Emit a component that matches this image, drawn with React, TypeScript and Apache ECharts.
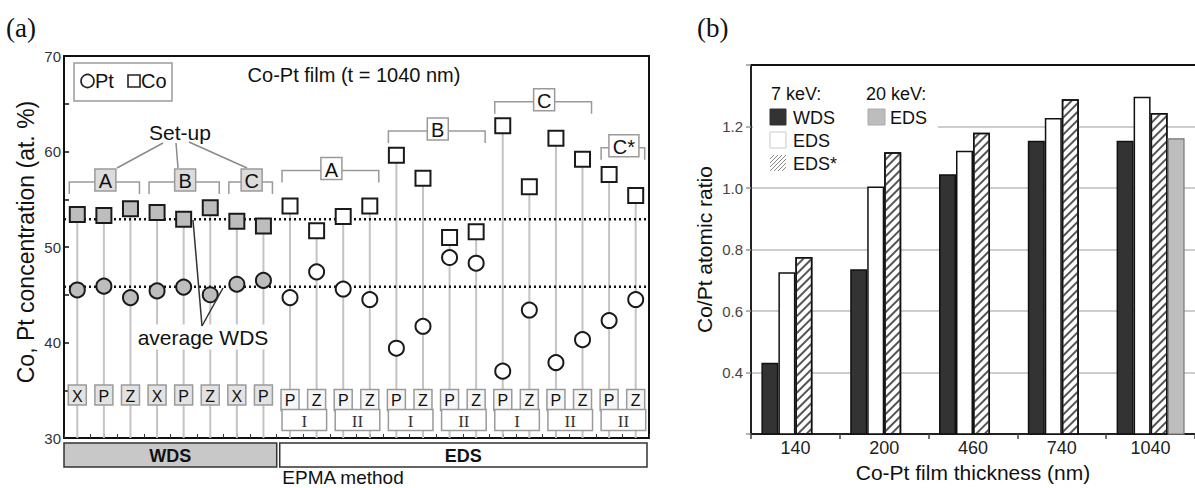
import React, { useEffect, useRef } from "react";
import * as echarts from "echarts";

// ---------------- Panel (a): Co-Pt film (t = 1040 nm) ----------------
const methods = [
  "WDS", "WDS", "WDS", "WDS", "WDS", "WDS", "WDS", "WDS",
  "EDS", "EDS", "EDS", "EDS", "EDS", "EDS", "EDS", "EDS", "EDS", "EDS", "EDS", "EDS", "EDS", "EDS",
];
const detectors = ["X", "P", "Z", "X", "P", "Z", "X", "P", "P", "Z", "P", "Z", "P", "Z", "P", "Z", "P", "Z", "P", "Z", "P", "Z"];
const coConc = [53.4, 53.3, 54.0, 53.6, 52.9, 54.1, 52.7, 52.2, 54.3, 51.7, 53.2, 54.3, 59.6, 57.2, 51.0, 51.6, 62.7, 56.3, 61.4, 59.2, 57.6, 55.4];
const ptConc = [45.5, 45.9, 44.7, 45.4, 45.8, 45.0, 46.1, 46.5, 44.7, 47.4, 45.6, 44.5, 39.4, 41.7, 48.9, 48.3, 37.0, 43.4, 37.9, 40.3, 42.3, 44.5];
const avgWdsCo = 52.9;
const avgWdsPt = 45.85;
const setupLabels = ["A", "B", "C", "A", "B", "C", "C*"];
const setupFirst = [0, 3, 6, 8, 12, 16, 20];
const setupLast = [2, 5, 7, 11, 15, 19, 21];
const runLabels = ["I", "II", "I", "II", "I", "II", "II"];
const runFirst = [8, 10, 12, 14, 16, 18, 20];
const runLast = [9, 11, 13, 15, 17, 19, 21];
const methodNames = ["WDS", "EDS"];
const methodFirst = [0, 8];
const methodLast = [7, 21];

// ---------------- Panel (b): Co/Pt atomic ratio ----------------
const thickness = ["140", "200", "460", "740", "1040"];
const wds7keV = [0.432, 0.736, 1.045, 1.154, 1.154];
const eds7keV = [0.726, 1.005, 1.121, 1.228, 1.297];
const edsStar7keV = [0.776, 1.116, 1.18, 1.289, 1.244];
const eds20keV = [null, null, null, null, 1.162];

const SANS = '"Liberation Sans", Arial, Helvetica, sans-serif';
const SERIF = '"Liberation Serif", "Times New Roman", serif';

// layout (not data): heights of the set-up brackets in concentration units
const bracketLevels = [56.8, 56.8, 56.8, 58.0, 62.15, 65.2, 60.4];

function txt(text: string, x: number, y: number, size: number, o: any = {}) {
  const align = o.align || "center";
  const valign = o.valign || "middle";
  const el: any = {
    type: "text",
    x,
    y,
    rotation: o.rotation || 0,
    style: {
      text,
      fill: o.fill || "#111",
      fontSize: size,
      fontFamily: o.family || SANS,
      fontWeight: o.weight || "normal",
      align,
      verticalAlign: valign,
      textAlign: align,
      textVerticalAlign: valign,
    },
  };
  if (o.bg) {
    el.style.backgroundColor = o.bg;
    el.style.padding = o.padding || [1, 3];
  }
  if (o.z !== undefined) el.z = o.z;
  return el;
}

function hatch(x0: number, y0: number, s: number, step: number, color: string) {
  const out: any[] = [];
  for (let c = step; c < 2 * s; c += step) {
    const u1 = Math.max(0, c - s), v1 = Math.min(s, c);
    const u2 = Math.min(s, c), v2 = Math.max(0, c - s);
    out.push({
      type: "line",
      z: 3,
      shape: { x1: x0 + u1, y1: y0 + v1, x2: x0 + u2, y2: y0 + v2 },
      style: { stroke: color, lineWidth: 1 },
    });
  }
  return out;
}

const frameAxis = (extra: any) => ({
  axisLine: { show: true, onZero: false, lineStyle: { color: "#111", width: 2 } },
  axisTick: { show: false },
  axisLabel: { show: false },
  splitLine: { show: false },
  ...extra,
});

function buildOption(): any {
  const markerFill = (i: number) => (methods[i] === "WDS" ? "#bdbdbd" : "#ffffff");

  const legendB: any[] = [
    { type: "rect", z: 1, shape: { x: 753, y: 78, width: 185, height: 100 }, style: { fill: "#fff" } },
    txt("7 keV:", 771, 94, 18, { align: "left", z: 3 }),
    txt("20 keV:", 866, 94, 18, { align: "left", z: 3 }),
    { type: "rect", z: 3, shape: { x: 770, y: 109, width: 16, height: 16 }, style: { fill: "#333", stroke: "#333", lineWidth: 1 } },
    txt("WDS", 793, 118, 18, { align: "left", z: 3 }),
    { type: "rect", z: 3, shape: { x: 770, y: 132, width: 16, height: 16 }, style: { fill: "#fff", stroke: "#c8c8c8", lineWidth: 1 } },
    txt("EDS", 793, 141, 18, { align: "left", z: 3 }),
    ...hatch(770, 155, 16, 4, "#8a8a8a"),
    txt("EDS*", 793, 164, 18, { align: "left", z: 3 }),
    { type: "rect", z: 3, shape: { x: 868, y: 109, width: 17, height: 16 }, style: { fill: "#bdbdbd", stroke: "#aaa", lineWidth: 1 } },
    txt("EDS", 890, 118, 18, { align: "left", z: 3 }),
  ];

  const graphicA: any[] = [
    txt("(a)", 6, 28, 27, { align: "left", family: SERIF }),
    txt("(b)", 697, 28, 27, { align: "left", family: SERIF }),
    txt("Co, Pt concentration (at. %)", 26, 242, 23, { rotation: Math.PI / 2 }),
    txt("Co-Pt film (t = 1040 nm)", 354, 75, 20),
    // legend box
    { type: "rect", z: 5, shape: { x: 74, y: 63, width: 98, height: 38 }, style: { fill: "#fff", stroke: "#9a9a9a", lineWidth: 1.5 } },
    { type: "circle", z: 6, shape: { cx: 87.5, cy: 81, r: 6.5 }, style: { fill: "#fff", stroke: "#222", lineWidth: 1.6 } },
    txt("Pt", 95, 81, 20, { align: "left", z: 6 }),
    { type: "rect", z: 6, shape: { x: 128, y: 75, width: 12, height: 12 }, style: { fill: "#fff", stroke: "#222", lineWidth: 1.6 } },
    txt("Co", 141, 81, 20, { align: "left", z: 6 }),
    // set-up leader
    txt("Set-up", 180, 132, 21),
    { type: "line", shape: { x1: 163, y1: 143, x2: 117, y2: 168 }, style: { stroke: "#8a8a8a", lineWidth: 1.5 } },
    { type: "line", shape: { x1: 176, y1: 143, x2: 178, y2: 168 }, style: { stroke: "#8a8a8a", lineWidth: 1.5 } },
    { type: "line", shape: { x1: 189, y1: 142, x2: 247, y2: 168 }, style: { stroke: "#8a8a8a", lineWidth: 1.5 } },
    // average WDS leader
    txt("average WDS", 203, 337, 21, { bg: "#fff", padding: [2, 3], z: 6 }),
    { type: "line", z: 7, shape: { x1: 202, y1: 326, x2: 193, y2: 220 }, style: { stroke: "#333", lineWidth: 1.5 } },
    { type: "line", z: 7, shape: { x1: 202, y1: 326, x2: 223, y2: 288 }, style: { stroke: "#333", lineWidth: 1.5 } },
    txt("EPMA method", 343, 468, 19, { valign: "top" }),
  ];

  return {
    animation: false,
    backgroundColor: "#fff",
    textStyle: { fontFamily: SANS },
    graphic: { elements: [...graphicA, ...legendB] },
    grid: [
      { left: 64, top: 56, width: 585, height: 382, show: false },
      { left: 751, top: 65, width: 452, height: 376, show: false },
    ],
    xAxis: [
      {
        gridIndex: 0,
        type: "value",
        min: -0.5,
        max: 21.5,
        interval: 0.5,
        axisLine: { show: true, onZero: false, lineStyle: { color: "#111", width: 2 } },
        axisTick: { show: true, inside: true, length: 4, lineStyle: { color: "#333", width: 1 } },
        axisLabel: { show: false },
        splitLine: { show: false },
      },
      {
        gridIndex: 1,
        type: "category",
        data: thickness,
        axisLine: { show: true, onZero: false, lineStyle: { color: "#222", width: 2 } },
        axisTick: { show: true, length: 5, lineStyle: { color: "#444", width: 1.5 } },
        axisLabel: { fontSize: 18, color: "#222", margin: 5, fontFamily: SANS },
        name: "Co-Pt film thickness (nm)",
        nameLocation: "middle",
        nameGap: 25,
        nameTextStyle: { fontSize: 21, color: "#111", fontFamily: SANS },
      },
      frameAxis({ gridIndex: 0, type: "value", position: "top", min: 0, max: 1 }),
      frameAxis({ gridIndex: 1, type: "value", position: "top", min: 0, max: 1 }),
    ],
    yAxis: [
      {
        gridIndex: 0,
        type: "value",
        min: 30,
        max: 70,
        interval: 10,
        axisLine: { show: true, onZero: false, lineStyle: { color: "#111", width: 2 } },
        axisTick: { show: true, inside: true, length: 5, lineStyle: { color: "#111", width: 1.5 } },
        minorTick: { show: true, splitNumber: 2, length: 5, lineStyle: { color: "#111", width: 1.5 } },
        axisLabel: { fontSize: 15, color: "#333", margin: 3, fontFamily: SANS },
        splitLine: { show: false },
      },
      {
        gridIndex: 1,
        type: "value",
        min: 0.2,
        max: 1.4,
        interval: 0.2,
        axisLine: { show: true, onZero: false, lineStyle: { color: "#222", width: 2 } },
        axisTick: { show: true, length: 5, lineStyle: { color: "#999", width: 1.5 } },
        axisLabel: {
          fontSize: 15,
          color: "#444",
          margin: 8,
          fontFamily: SANS,
          formatter: (v: number) => (v < 0.3 || v > 1.3 ? "" : v.toFixed(1)),
        },
        splitLine: { show: true, lineStyle: { color: "#bdbdbd", width: 1.5 } },
        name: "Co/Pt atomic ratio",
        nameLocation: "middle",
        nameGap: 36,
        nameTextStyle: { fontSize: 21, color: "#111", fontFamily: SANS },
      },
      frameAxis({ gridIndex: 0, type: "value", position: "right", min: 0, max: 1 }),
    ],
    series: [
      // stems
      {
        type: "custom",
        xAxisIndex: 0,
        yAxisIndex: 0,
        z: 1,
        silent: true,
        data: coConc.map((v, i) => [i, v]),
        renderItem: (_p: any, api: any) => {
          const i = api.value(0);
          const top = api.coord([i, api.value(1)]);
          const bot = api.coord([i, 30]);
          return {
            type: "line",
            shape: { x1: top[0], y1: top[1], x2: bot[0], y2: bot[1] },
            style: { stroke: "#c4c4c4", lineWidth: 2 },
          };
        },
      },
      // average WDS dotted lines
      {
        type: "line",
        name: "avg Co",
        xAxisIndex: 0,
        yAxisIndex: 0,
        z: 2,
        symbol: "none",
        silent: true,
        data: [[-0.5, avgWdsCo], [21.5, avgWdsCo]],
        lineStyle: { color: "#111", width: 2.5, type: [2, 3] },
      },
      {
        type: "line",
        name: "avg Pt",
        xAxisIndex: 0,
        yAxisIndex: 0,
        z: 2,
        symbol: "none",
        silent: true,
        data: [[-0.5, avgWdsPt], [21.5, avgWdsPt]],
        lineStyle: { color: "#111", width: 2.5, type: [2, 3] },
      },
      // Pt
      {
        type: "scatter",
        name: "Pt",
        xAxisIndex: 0,
        yAxisIndex: 0,
        z: 3,
        symbol: "circle",
        symbolSize: 15,
        data: ptConc.map((v, i) => ({ value: [i, v], itemStyle: { color: markerFill(i) } })),
        itemStyle: { borderColor: "#1a1a1a", borderWidth: 2, opacity: 1 },
      },
      // Co
      {
        type: "scatter",
        name: "Co",
        xAxisIndex: 0,
        yAxisIndex: 0,
        z: 3,
        symbol: "rect",
        symbolSize: 15,
        data: coConc.map((v, i) => ({ value: [i, v], itemStyle: { color: markerFill(i) } })),
        itemStyle: { borderColor: "#1a1a1a", borderWidth: 2, opacity: 1 },
      },
      // detector boxes (X / P / Z)
      {
        type: "custom",
        xAxisIndex: 0,
        yAxisIndex: 0,
        z: 4,
        silent: true,
        data: detectors.map((_, i) => [i, 34]),
        renderItem: (p: any, api: any) => {
          const i = p.dataIndex;
          const wds = methods[i] === "WDS";
          const c = api.coord([i, wds ? 34.5 : 33.98]);
          const w = 18, h = wds ? 20 : 21;
          return {
            type: "group",
            children: [
              { type: "rect", shape: { x: c[0] - w / 2, y: c[1] - h / 2, width: w, height: h }, style: { fill: wds ? "#e2e2e2" : "#f6f6f6", stroke: "#9a9a9a", lineWidth: 1.5 } },
              txt(detectors[i], c[0], c[1] + 1, 16),
            ],
          };
        },
      },
      // run boxes (I / II)
      {
        type: "custom",
        xAxisIndex: 0,
        yAxisIndex: 0,
        z: 4,
        silent: true,
        data: runLabels.map((_, k) => [runFirst[k], 32]),
        renderItem: (p: any, api: any) => {
          const k = p.dataIndex;
          const a = api.coord([runFirst[k], 31.88]);
          const b = api.coord([runLast[k], 31.88]);
          const x1 = a[0] - 8, x2 = b[0] + 10;
          return {
            type: "group",
            children: [
              { type: "rect", shape: { x: x1, y: a[1] - 10.5, width: x2 - x1, height: 21 }, style: { fill: "#fff", stroke: "#9a9a9a", lineWidth: 1.5 } },
              txt(runLabels[k], (x1 + x2) / 2, a[1] + 1, 17, { family: SERIF, fill: "#333" }),
            ],
          };
        },
      },
      // set-up brackets
      {
        type: "custom",
        xAxisIndex: 0,
        yAxisIndex: 0,
        z: 4,
        silent: true,
        data: setupLabels.map((_, k) => [setupFirst[k], bracketLevels[k]]),
        renderItem: (p: any, api: any) => {
          const k = p.dataIndex;
          const left = api.coord([setupFirst[k], bracketLevels[k]]);
          const right = api.coord([setupLast[k], bracketLevels[k]]);
          const x1 = left[0] - 8, x2 = right[0] + 9, y = left[1];
          const cx = (x1 + x2) / 2 + 1;
          const wds = methods[setupFirst[k]] === "WDS";
          const w = setupLabels[k].length > 1 ? 30 : 21;
          return {
            type: "group",
            children: [
              { type: "polyline", shape: { points: [[x1, y + 12], [x1, y], [x2, y], [x2, y + 12]] }, style: { stroke: "#9a9a9a", lineWidth: 1.5, fill: "none" } },
              { type: "rect", shape: { x: cx - w / 2, y: y - 13, width: w, height: 22 }, style: { fill: wds ? "#dcdcdc" : "#fff", stroke: "#9a9a9a", lineWidth: 1.5 } },
              txt(setupLabels[k], cx, y - 1, 20),
            ],
          };
        },
      },
      // method bands (WDS / EDS)
      {
        type: "custom",
        xAxisIndex: 0,
        yAxisIndex: 0,
        z: 4,
        silent: true,
        data: methodNames.map((_, k) => [methodFirst[k], 30]),
        renderItem: (p: any, api: any) => {
          const k = p.dataIndex;
          const a = api.coord([methodFirst[k] - 0.5, 30]);
          const b = api.coord([methodLast[k] + 0.5, 30]);
          const x1 = a[0] + (k === 0 ? 0 : 3);
          const x2 = b[0] - (k === 0 ? 0 : 2);
          return {
            type: "group",
            children: [
              { type: "rect", shape: { x: x1, y: a[1] + 5, width: x2 - x1, height: 24 }, style: { fill: k === 0 ? "#c8c8c8" : "#fff", stroke: "#333", lineWidth: 1.5 } },
              txt(methodNames[k], (x1 + x2) / 2, a[1] + 18, 18, { weight: "bold" }),
            ],
          };
        },
      },
      // ---- panel (b) bars ----
      {
        type: "bar",
        name: "WDS 7 keV",
        xAxisIndex: 1,
        yAxisIndex: 1,
        z: 2,
        barWidth: 17,
        barGap: "0%",
        data: wds7keV,
        itemStyle: { color: "#333333", borderColor: "#111", borderWidth: 1.5 },
      },
      {
        type: "bar",
        name: "EDS 7 keV",
        xAxisIndex: 1,
        yAxisIndex: 1,
        z: 2,
        barWidth: 17,
        barGap: "0%",
        data: eds7keV,
        itemStyle: { color: "#ffffff", borderColor: "#111", borderWidth: 1.5 },
      },
      {
        type: "bar",
        name: "EDS* 7 keV",
        xAxisIndex: 1,
        yAxisIndex: 1,
        z: 2,
        barWidth: 17,
        barGap: "0%",
        data: edsStar7keV,
        itemStyle: {
          color: "#ffffff",
          borderColor: "#111",
          borderWidth: 1.5,
          decal: {
            symbol: "rect",
            symbolSize: 1,
            color: "#555",
            dashArrayX: [1, 0],
            dashArrayY: [1.5, 3.5],
            rotation: -Math.PI / 4,
          },
        },
      },
      {
        type: "bar",
        name: "EDS 20 keV",
        xAxisIndex: 1,
        yAxisIndex: 1,
        z: 2,
        barWidth: 17,
        barGap: "0%",
        data: eds20keV,
        itemStyle: { color: "#bdbdbd", borderColor: "#777", borderWidth: 1.2 },
      },
    ],
  };
}

export default function App() {
  const ref = useRef<HTMLDivElement>(null);
  useEffect(() => {
    document.body.style.margin = "0";
    const chart = echarts.init(ref.current as HTMLDivElement, null, { renderer: "svg" });
    chart.setOption(buildOption());
    return () => chart.dispose();
  }, []);
  return <div ref={ref} style={{ width: 1195, height: 488, background: "#fff" }} />;
}
